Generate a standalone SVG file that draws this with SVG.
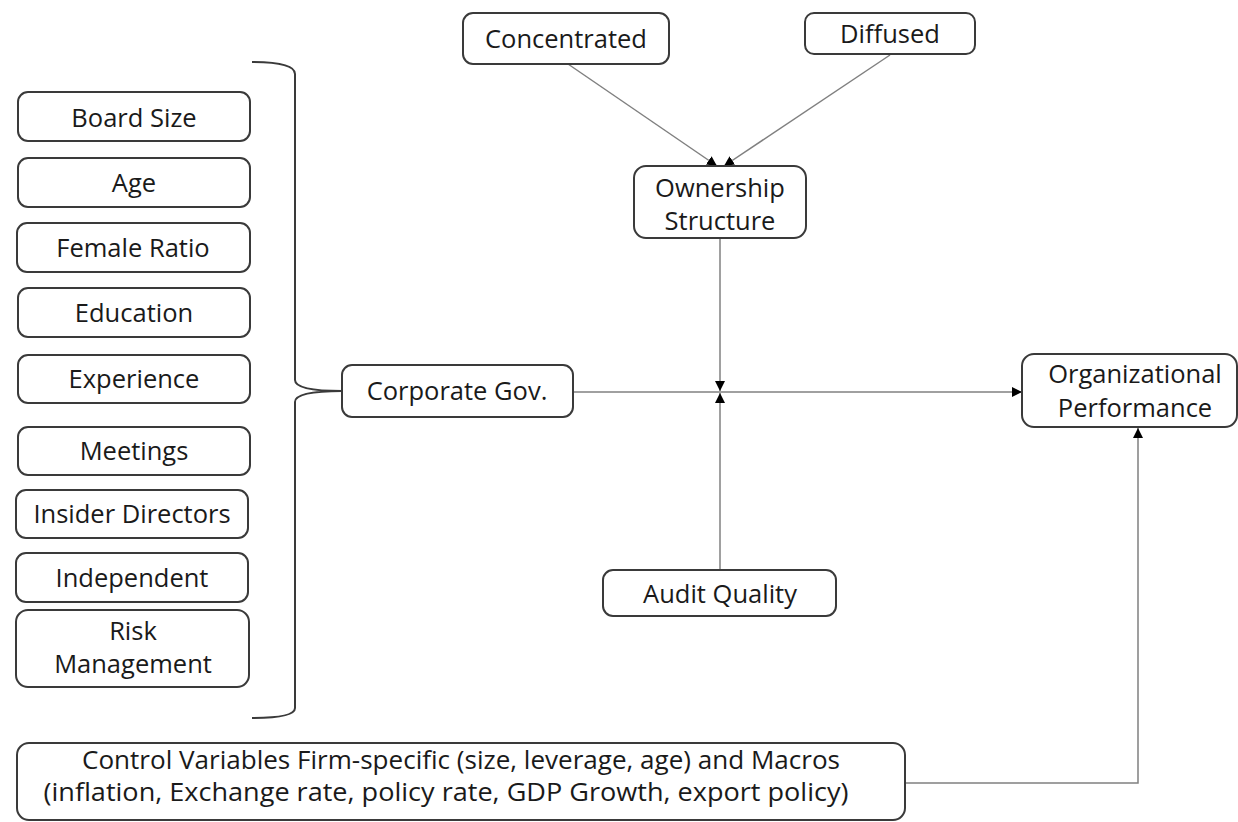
<svg xmlns="http://www.w3.org/2000/svg" width="1238" height="822" viewBox="0 0 1238 822">
<style>
.box{fill:#fff;stroke:#3a3a3a;stroke-width:2}
.t{font-family:"Open Sans","Liberation Sans",sans-serif;font-size:25.5px;fill:#1a1a1a;text-anchor:middle}
.ln{fill:none;stroke:#808080;stroke-width:1.5}
.br{fill:none;stroke:#3a3a3a;stroke-width:2}
</style>
<defs>
<marker id="ah" viewBox="0 0 10 10" refX="10" refY="5" markerWidth="10" markerHeight="10" markerUnits="userSpaceOnUse" orient="auto">
<path d="M0,0 L10,5 L0,10 z" fill="#000"/>
</marker>
</defs>
<rect width="1238" height="822" fill="#fff"/>
<g id="connectors">
<path class="br" d="M252,62 Q295,62 295,74 L295,380 Q295,391 342,391 Q295,391 295,402 L295,708 Q295,718 252,718"/>
<line class="ln" x1="568" y1="64" x2="717" y2="166" marker-end="url(#ah)"/>
<line class="ln" x1="890" y1="55" x2="724" y2="166" marker-end="url(#ah)"/>
<line class="ln" x1="720" y1="238" x2="720" y2="391" marker-end="url(#ah)"/>
<line class="ln" x1="720" y1="570" x2="720" y2="393" marker-end="url(#ah)"/>
<line class="ln" x1="573" y1="392" x2="1022" y2="392" marker-end="url(#ah)"/>
<polyline class="ln" points="905,783 1138,783 1138,428" marker-end="url(#ah)"/>
</g>
<g id="board-size"><rect class="box" x="18" y="92" width="232" height="49" rx="10"/><text class="t" x="134" y="127">Board Size</text></g>
<g id="age"><rect class="box" x="18" y="158" width="232" height="49" rx="10"/><text class="t" x="134" y="192">Age</text></g>
<g id="female-ratio"><rect class="box" x="17" y="223" width="233" height="49" rx="10"/><text class="t" x="133" y="257">Female Ratio</text></g>
<g id="education"><rect class="box" x="18" y="288" width="232" height="49" rx="10"/><text class="t" x="134" y="322">Education</text></g>
<g id="experience"><rect class="box" x="18" y="355" width="232" height="48" rx="10"/><text class="t" x="134" y="388">Experience</text></g>
<g id="meetings"><rect class="box" x="18" y="427" width="232" height="48" rx="10"/><text class="t" x="134" y="460">Meetings</text></g>
<g id="insider-directors"><rect class="box" x="16" y="490" width="232" height="48" rx="10"/><text class="t" x="132" y="523">Insider Directors</text></g>
<g id="independent"><rect class="box" x="16" y="553" width="232" height="49" rx="10"/><text class="t" x="132" y="587">Independent</text></g>
<g id="risk-management"><rect class="box" x="16" y="610" width="233" height="77" rx="12"/><text class="t" x="133" y="640">Risk</text><text class="t" x="133" y="673">Management</text></g>
<g id="corporate-gov"><rect class="box" x="342" y="365" width="231" height="52" rx="10"/><text class="t" x="457" y="400">Corporate Gov.</text></g>
<g id="concentrated"><rect class="box" x="463" y="13" width="206" height="51" rx="10"/><text class="t" x="566" y="48">Concentrated</text></g>
<g id="diffused"><rect class="box" x="805" y="13" width="170" height="41" rx="9"/><text class="t" x="890" y="43">Diffused</text></g>
<g id="ownership-structure"><rect class="box" x="634" y="166" width="172" height="72" rx="12"/><text class="t" x="720" y="197">Ownership</text><text class="t" x="720" y="230">Structure</text></g>
<g id="audit-quality"><rect class="box" x="603" y="570" width="233" height="46" rx="10"/><text class="t" x="720" y="603">Audit Quality</text></g>
<g id="organizational-performance"><rect class="box" x="1022" y="354" width="215" height="73" rx="12"/><text class="t" x="1135" y="383">Organizational</text><text class="t" x="1135" y="417">Performance</text></g>
<g id="control-variables"><rect class="box" x="17" y="743" width="888" height="77" rx="12"/><text class="t" x="461" y="769" textLength="758" lengthAdjust="spacingAndGlyphs">Control Variables Firm-specific (size, leverage, age) and Macros</text><text class="t" x="446" y="801" textLength="805" lengthAdjust="spacingAndGlyphs">(inflation, Exchange rate, policy rate, GDP Growth, export policy)</text></g>
</svg>
